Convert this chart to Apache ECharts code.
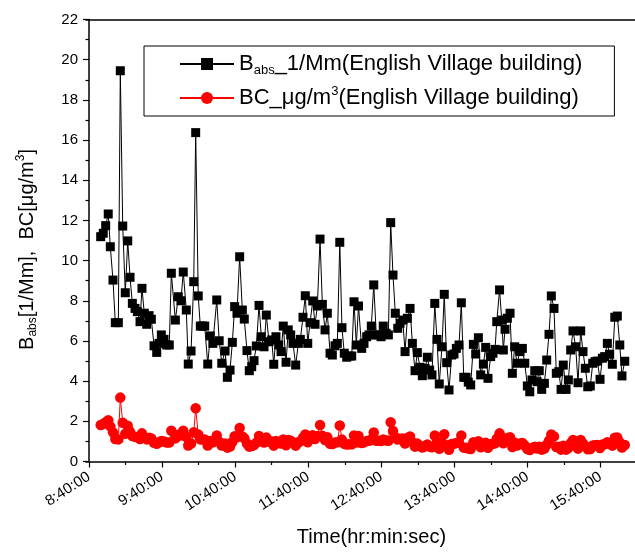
<!DOCTYPE html>
<html>
<head>
<meta charset="utf-8">
<script src="https://cdn.jsdelivr.net/npm/echarts@6/dist/echarts.min.js"></script>
<style>html,body{margin:0;padding:0;background:#fff}#c{width:635px;height:554px}</style>
</head>
<body>
<div id="c"></div>
<script>
// time of each sample, minutes after 8:40:00
const minutesAfter0840 = [
9.6,11.7,13.7,15.8,17.5,19.7,21.6,24.1,25.7,27.7,29.8,31.8,33.7,35.6,37.8,39.7,41.9,43.5,45.4,47.4,
49.3,51.2,53.4,55.6,57.5,59.4,61.6,63.8,65.9,67.6,70.9,73.3,75.5,77.4,79.9,81.5,83.8,86.0,87.6,89.7,
91.4,93.2,95.0,97.5,99.6,101.7,104.9,
106.9,109.0,111.7,113.6,115.8,117.7,119.6,121.5,123.7,125.9,127.5,129.7,131.6,133.6,135.5,137.4,139.6,141.5,143.7,145.6,
147.8,150.0,151.7,153.5,155.8,157.7,159.5,161.8,163.6,165.6,167.5,169.7,171.9,173.5,175.7,177.6,179.6,181.5,183.7,185.6,
187.5,189.7,191.6,193.8,195.7,197.9,199.8,202.0,203.9,205.9,207.7,209.6,211.6,213.7,215.7,217.6,219.5,221.3,
223.9,225.8,228.0,229.9,231.8,233.8,235.9,237.9,239.8,241.6,243.9,245.8,247.7,249.6,251.5,253.5,255.4,257.6,259.5,261.4,
263.6,265.5,267.7,269.6,271.8,273.7,275.9,277.8,279.7,281.6,283.9,285.7,287.6,289.8,291.7,293.7,295.6,297.8,299.7,301.6,
303.8,305.7,307.7,309.6,311.4,313.4,315.6,317.5,319.7,321.6,323.8,325.7,327.6,329.8,331.7,333.4,334.8,337.1,
338.9,340.2,341.6,343.5,345.7,347.6,349.5,351.4,353.9,355.8,357.8,359.9,361.9,363.7,366.0,367.9,369.7,371.7,373.9,375.8,
377.7,379.6,381.8,383.7,385.7,387.6,389.4,391.7,393.6,395.5,397.4,399.6,401.5,403.7,405.6,407.5,409.5,411.6,413.6,415.5,
417.4,419.6,421.5,423.4,425.6,427.5,429.7,431.7,433.8,435.8,437.6,439.9
];
// B_abs, 1/Mm
const babs = [
11.19,11.36,11.74,12.32,10.69,9.03,6.91,6.91,19.45,11.72,8.40,10.98,9.17,7.87,7.62,7.46,6.96,8.62,7.38,6.83,
7.26,7.08,5.76,5.43,5.88,6.30,6.08,5.80,5.80,9.37,7.04,8.20,8.00,9.43,7.54,4.85,5.50,8.95,16.37,8.24,
6.74,6.74,6.74,4.85,6.25,5.88,8.04,
6.01,4.89,5.50,4.19,4.55,5.93,7.71,7.38,10.19,7.54,7.09,5.52,4.52,4.72,5.02,5.75,7.77,6.21,5.71,7.29,
5.96,6.05,4.84,6.21,5.80,5.47,6.74,4.94,6.55,6.30,5.88,4.80,5.88,6.08,7.18,8.25,5.88,6.91,7.99,6.83,
7.74,11.07,7.82,6.55,7.38,5.39,5.30,5.76,5.88,10.91,6.66,5.39,5.19,5.25,5.25,7.95,5.80,7.74,
5.63,5.88,6.21,6.30,6.74,8.79,6.30,6.30,6.21,6.74,6.38,6.30,11.89,9.28,7.38,6.63,6.88,7.04,5.47,7.13,
7.62,5.88,4.52,5.42,4.69,4.27,4.64,5.19,4.55,4.31,7.87,6.08,3.86,5.71,8.32,4.92,3.56,5.30,5.35,5.63,
5.80,7.90,4.19,4.19,3.95,3.81,5.83,5.35,6.16,4.31,4.85,5.68,4.14,5.22,5.39,5.58,6.96,8.54,
7.04,5.55,6.58,7.13,7.38,4.39,5.71,4.89,5.47,5.63,4.89,3.76,3.47,4.06,4.52,3.97,4.52,3.59,3.89,5.05,
6.33,8.24,7.62,4.39,4.47,3.59,4.80,3.59,4.06,5.55,6.50,5.71,3.92,6.50,5.47,4.64,3.72,3.76,4.89,4.97,
5.00,4.09,5.14,5.22,5.88,5.34,4.84,7.18,7.24,5.80,4.26,4.99
];
// BC, ug/m3
const bc = [
1.82,1.87,1.95,2.05,1.75,1.45,1.12,1.10,3.18,1.93,1.38,1.78,1.48,1.27,1.23,1.21,1.12,1.40,1.20,1.10,
1.18,1.15,0.93,0.88,0.96,1.02,0.99,0.94,0.94,1.53,1.15,1.33,1.30,1.53,1.22,0.80,0.90,1.46,2.65,1.34,
1.10,1.10,1.10,0.80,1.02,0.96,1.30,
0.98,0.80,0.90,0.69,0.75,0.97,1.26,1.21,1.67,1.24,1.16,0.90,0.74,0.77,0.82,0.94,1.27,1.02,0.94,1.20,
0.98,0.99,0.79,1.02,0.95,0.90,1.10,0.81,1.07,1.03,0.96,0.79,0.96,1.00,1.18,1.35,0.96,1.13,1.31,1.12,
1.27,1.82,1.28,1.07,1.21,0.88,0.87,0.94,0.96,1.79,1.09,0.88,0.85,0.86,0.86,1.30,0.95,1.27,
0.92,0.96,1.02,1.03,1.10,1.44,1.03,1.03,1.02,1.10,1.05,1.03,1.95,1.52,1.21,1.09,1.13,1.15,0.90,1.17,
1.25,0.96,0.74,0.89,0.77,0.70,0.76,0.85,0.75,0.71,1.29,1.00,0.63,0.94,1.36,0.81,0.58,0.87,0.88,0.92,
0.95,1.30,0.69,0.69,0.65,0.62,0.96,0.88,1.01,0.71,0.80,0.93,0.68,0.86,0.88,0.91,1.14,1.40,
1.15,0.91,1.08,1.17,1.21,0.72,0.94,0.80,0.90,0.92,0.80,0.62,0.57,0.67,0.74,0.65,0.74,0.59,0.64,0.83,
1.04,1.35,1.25,0.72,0.73,0.59,0.79,0.59,0.67,0.91,1.07,0.94,0.64,1.07,0.90,0.76,0.61,0.62,0.80,0.81,
0.82,0.67,0.84,0.86,0.96,0.88,0.79,1.18,1.19,0.95,0.70,0.82
];
const xMajorTicks = [0,60,120,180,240,300,360,420];
const xMinorTicks = [30,90,150,210,270,330,390];
const xMin = -2.46, xMax = 448.3;

function clock(m){
  const tot = 8*60+40+Math.round(m);
  const h = Math.floor(tot/60), mm = tot%60;
  return h + ':' + (mm<10?'0':'') + mm + ':00';
}

const font = 'Liberation Sans, Arial, sans-serif';
function makeRich(fs, sfs, lh){
  return {
    n:{fontSize:fs,fontFamily:font,color:'#000',lineHeight:lh,verticalAlign:'middle'},
    sub:{fontSize:sfs,fontFamily:font,color:'#000',lineHeight:Math.round(lh*0.4),verticalAlign:'bottom'},
    sup:{fontSize:sfs,fontFamily:font,color:'#000',lineHeight:Math.round(lh*0.4),verticalAlign:'top'}
  };
}

const chart = echarts.init(document.getElementById('c'), null, {renderer:'canvas'});
chart.setOption({
  animation:false,
  backgroundColor:'#fff',
  grid:{left:86,right:0,top:19.5,bottom:92.5,containLabel:false},
  legend:{
    left:144,top:46,orient:'vertical',
    backgroundColor:'#fff',borderColor:'#000',borderWidth:1,
    padding:[7,32,7,35],itemGap:8,itemWidth:54,itemHeight:15,
    textStyle:{rich:makeRich(22,13,26),fontSize:22,fontFamily:font,color:'#000'},
    formatter:function(name){
      if(name==='babs') return '{n|B}{sub|abs}{n|_1/Mm(English Village building)}';
      return '{n|BC_μg/m}{sup|3}{n|(English Village building)}';
    },
    data:['babs','bc']
  },
  xAxis:[{
    type:'value',min:xMin,max:xMax,position:'bottom',
    name:'Time(hr:min:sec)',nameLocation:'middle',nameGap:66,
    nameTextStyle:{fontSize:20,fontFamily:font,color:'#000',padding:[0,0,0,22]},
    axisLine:{show:true,onZero:false,lineStyle:{color:'#000',width:1.5}},
    axisTick:{show:true,length:6,customValues:xMajorTicks,lineStyle:{color:'#000',width:1.2}},
    axisLabel:{customValues:xMajorTicks,formatter:clock,rotate:33,margin:14,fontSize:15,fontFamily:font,color:'#000'},
    splitLine:{show:false}
  },{
    type:'value',min:xMin,max:xMax,position:'bottom',
    axisLine:{show:false},
    axisTick:{show:true,length:3.5,customValues:xMinorTicks,lineStyle:{color:'#000',width:1.2}},
    axisLabel:{show:false},splitLine:{show:false}
  },{
    type:'value',min:xMin,max:xMax,position:'top',
    axisLine:{show:true,lineStyle:{color:'#000',width:1.5}},
    axisTick:{show:false},axisLabel:{show:false},splitLine:{show:false}
  }],
  yAxis:{
    type:'value',min:0,max:22,interval:2,
    name:'{n|B}{sub|abs}{n|[1/Mm],  BC[μg/m}{sup|3}{n|]}',
    nameLocation:'middle',nameGap:47,nameRotate:90,
    nameTextStyle:{rich:makeRich(20,12,24),padding:[0,18,0,0]},
    axisLine:{show:true,lineStyle:{color:'#000',width:1.5}},
    axisTick:{show:true,length:6,lineStyle:{color:'#000',width:1.2}},
    minorTick:{show:true,splitNumber:2,length:3.5,lineStyle:{color:'#000',width:1.2}},
    axisLabel:{fontSize:15,fontFamily:font,color:'#000',margin:8},
    splitLine:{show:false}
  },
  series:[{
    name:'babs',type:'line',xAxisIndex:0,
    data:minutesAfter0840.map((t,i)=>[t,babs[i]]),
    symbol:'rect',symbolSize:9,
    itemStyle:{color:'#000'},lineStyle:{color:'#000',width:1},
    z:3
  },{
    name:'bc',type:'line',xAxisIndex:0,
    data:minutesAfter0840.map((t,i)=>[t,bc[i]]),
    symbol:'circle',symbolSize:10.5,
    itemStyle:{color:'#ff0000'},lineStyle:{color:'#ff0000',width:1},
    z:4
  }]
});
</script>
</body>
</html>
